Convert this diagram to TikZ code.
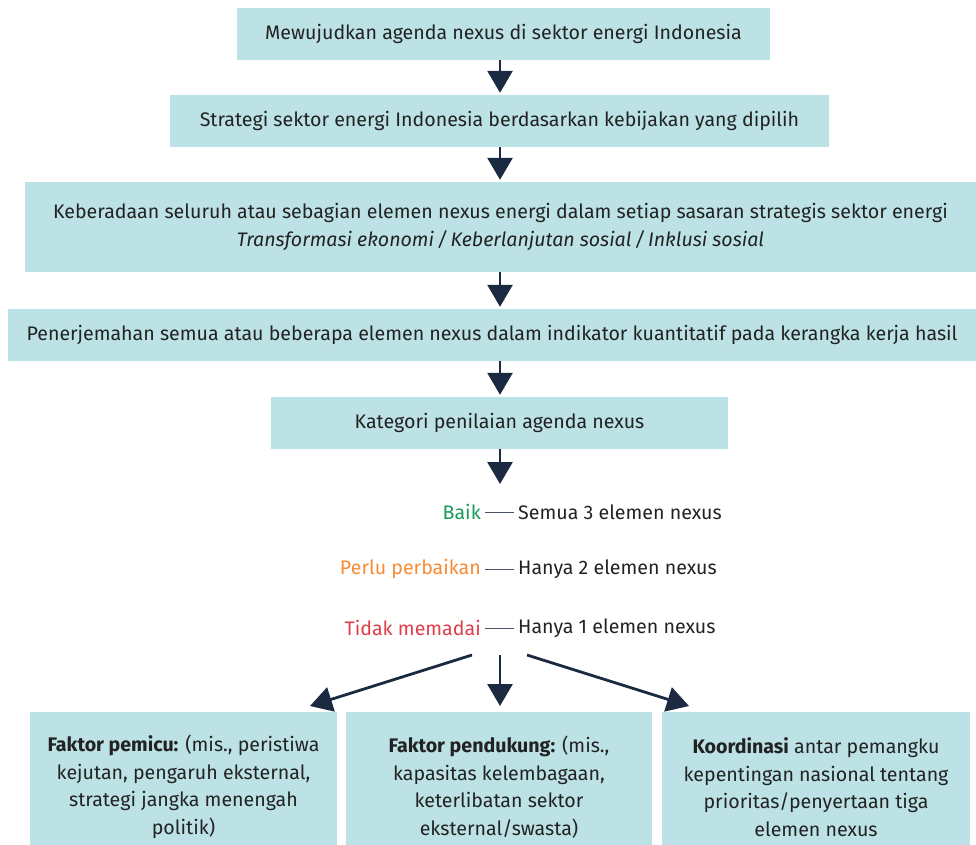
\documentclass[tikz,border=0pt]{standalone}
\usepackage{fontspec}
\setmainfont{Fira Sans}
\usetikzlibrary{arrows.meta}
\definecolor{boxfill}{HTML}{BCE2E6}
\definecolor{navy}{HTML}{1B2A41}
\definecolor{good}{HTML}{1A9A5A}
\definecolor{fair}{HTML}{F68B33}
\definecolor{poor}{HTML}{E03C4A}
\definecolor{ink}{HTML}{222222}
\tikzset{
  box/.style={fill=boxfill, inner sep=0pt, align=center, text=ink, font=\fontsize{19.6}{27.5}\selectfont},
  flow/.style={navy, line width=2.8pt, -{Triangle[width=25pt,length=22pt]}},
  tick/.style={navy!80, line width=0.9pt},
  cat/.style={font=\fontsize{19.6}{22}\selectfont, inner sep=0pt},
}
\begin{document}
\begin{tikzpicture}[x=1pt,y=-1pt]
\useasboundingbox (0,0) rectangle (976,844);
% main chain of boxes
\node[box, minimum width=533pt, minimum height=52pt] (b1) at (503.5,34)
  {Mewujudkan agenda nexus di sektor energi Indonesia};
\node[box, minimum width=659pt, minimum height=52pt] (b2) at (499.5,121)
  {Strategi sektor energi Indonesia berdasarkan kebijakan yang dipilih};
\node[box, minimum width=951pt, minimum height=90pt] (b3) at (500.5,227)
  {Keberadaan seluruh atau sebagian elemen nexus energi dalam setiap sasaran strategis sektor energi\\
   \itshape Transformasi ekonomi\,/\,Keberlanjutan sosial\,/\,Inklusi sosial};
\node[box, minimum width=968pt, minimum height=52pt] (b4) at (492,335)
  {Penerjemahan semua atau beberapa elemen nexus dalam indikator kuantitatif pada kerangka kerja hasil};
\node[box, minimum width=457pt, minimum height=52pt] (b5) at (499.5,423)
  {Kategori penilaian agenda nexus};

\draw[flow] (b1.south -| 500,0) -- ([yshift=2pt]b2.north -| 500,0);
\draw[flow] (b2.south -| 500,0) -- ([yshift=2pt]b3.north -| 500,0);
\draw[flow] (b3.south -| 500,0) -- ([yshift=2pt]b4.north -| 500,0);
\draw[flow] (b4.south -| 500,0) -- ([yshift=2pt]b5.north -| 500,0);
\coordinate (catTop) at (500,484);
\draw[flow] (b5.south -| 500,0) -- (catTop);

% assessment categories
\node[cat, anchor=east, text=good] (g1) at (481,512) {Baik};
\node[cat, anchor=west, text=ink] (g2) at (518,512) {Semua 3 elemen nexus};
\draw[tick] ([xshift=4pt]g1.east) -- ([xshift=-4pt]g2.west);
\node[cat, anchor=east, text=fair] (f1) at (481,569) {Perlu perbaikan};
\node[cat, anchor=west, text=ink] (f2) at (518,569) {Hanya 2 elemen nexus};
\draw[tick] ([xshift=4pt]f1.east) -- ([xshift=-4pt]f2.west);
\node[cat, anchor=east, text=poor] (p1) at (481,628) {Tidak memadai};
\node[cat, anchor=west, text=ink] (p2) at (518,628) {Hanya 1 elemen nexus};
\draw[tick] ([xshift=4pt]p1.east) -- ([xshift=-4pt]p2.west);

% factor boxes (they run past the lower edge of the page)
\node[box, minimum width=307pt, minimum height=150pt] (fa) at (183.5,787)
  {\textbf{Faktor pemicu:} (mis., peristiwa\\kejutan, pengaruh eksternal,\\strategi jangka menengah\\politik)};
\node[box, minimum width=306pt, minimum height=150pt] (fb) at (499,787)
  {\textbf{Faktor pendukung:} (mis.,\\kapasitas kelembagaan,\\keterlibatan sektor\\eksternal/swasta)};
\node[box, minimum width=308pt, minimum height=150pt] (fc) at (816,787)
  {\textbf{Koordinasi} antar pemangku\\kepentingan nasional tentang\\prioritas/penyertaan tiga\\elemen nexus};

\coordinate (sL) at (472,655);
\coordinate (sM) at (500,655);
\coordinate (sR) at (527,655);
\coordinate (eL) at (310,706);
\coordinate (eM) at (500,706);
\coordinate (eR) at (689,706);
\draw[flow] (sL) -- (eL);
\draw[flow] (sM) -- (eM);
\draw[flow] (sR) -- (eR);
\end{tikzpicture}
\end{document}
